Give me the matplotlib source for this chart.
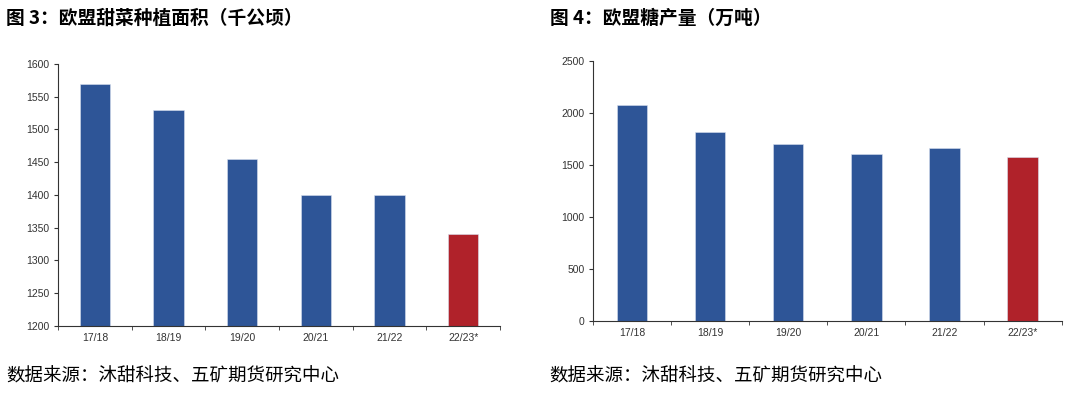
import matplotlib
matplotlib.use('Agg')
import matplotlib.pyplot as plt
import numpy as np

plt.rcParams['font.family'] = ['Liberation Sans', 'Noto Sans CJK SC', 'DejaVu Sans']

# 数据
seasons = ['17/18', '18/19', '19/20', '20/21', '21/22', '22/23*']
area = [1570, 1530, 1455, 1400, 1400, 1340]        # 千公顷
sugar = [2080, 1820, 1700, 1605, 1665, 1580]       # 万吨
bar_colors = ['#2E5597'] * 5 + ['#B0222A']

fig = plt.figure(figsize=(10.8, 3.93), dpi=100)

def draw(ax, vals, ylim, step, width):
    x = np.arange(len(seasons))
    ax.bar(x, vals, width=width, color=bar_colors, edgecolor='#d8e0ee', linewidth=0.4)
    ax.set_ylim(*ylim)
    ax.set_yticks(np.arange(ylim[0], ylim[1] + 1, step))
    ax.set_xlim(-0.5, len(seasons) - 0.5)
    ax.set_xticks(x)
    ax.set_xticklabels(seasons)
    ax.set_xticks(np.arange(-0.5, len(seasons)), minor=True)
    ax.tick_params(axis='x', which='major', length=0, pad=5, labelsize=7.5, colors='#333333')
    ax.tick_params(axis='x', which='minor', length=3, direction='out', color='#333333')
    ax.tick_params(axis='y', length=3, direction='out', labelsize=7.5, colors='#333333', pad=3)
    for s in ['top', 'right']:
        ax.spines[s].set_visible(False)
    for s in ['left', 'bottom']:
        ax.spines[s].set_color('#333333')
        ax.spines[s].set_linewidth(0.8)

ax1 = fig.add_axes([0.0537, 0.1705, 0.4093, 0.667])
draw(ax1, area, (1200, 1600), 50, 0.41)
ax2 = fig.add_axes([0.549, 0.183, 0.434, 0.662])
draw(ax2, sugar, (0, 2500), 500, 0.39)

cjk = ['Noto Sans CJK SC', 'DejaVu Sans']
fig.text(0.006, 0.953, '图 3：欧盟甜菜种植面积（千公顷）', family=cjk, fontsize=13.5,
         fontweight='bold', va='center', ha='left')
fig.text(0.509, 0.953, '图 4：欧盟糖产量（万吨）', family=cjk, fontsize=13.5,
         fontweight='bold', va='center', ha='left')
fig.text(0.006, 0.043, '数据来源：沐甜科技、五矿期货研究中心', family=cjk, fontsize=13.3,
         va='center', ha='left')
fig.text(0.509, 0.043, '数据来源：沐甜科技、五矿期货研究中心', family=cjk, fontsize=13.3,
         va='center', ha='left')

fig.savefig('out.png', dpi=100)
